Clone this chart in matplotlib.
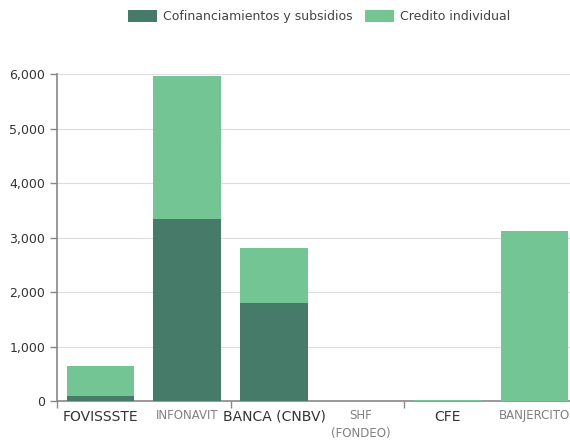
import matplotlib
matplotlib.use("Agg")
import matplotlib.pyplot as plt
from matplotlib.ticker import FuncFormatter, FixedLocator
from matplotlib.patches import Patch

categories = ["FOVISSSTE", "INFONAVIT", "BANCA (CNBV)", "SHF\n(FONDEO)", "CFE", "BANJERCITO"]
cofinanciamientos = [90, 3340, 1800, 0, 0, 0]
credito_individual = [550, 2620, 1010, 0, 25, 3120]

dark = "#457B68"
light = "#74C594"

fig = plt.figure(figsize=(5.7, 4.4), dpi=100)
ax = fig.add_axes([0.1, 0.0886, 0.914, 0.743])

x = list(range(len(categories)))
ax.bar(x, cofinanciamientos, width=0.78, color=dark, zorder=3)
ax.bar(x, credito_individual, width=0.78, bottom=cofinanciamientos, color=light, zorder=3)

ax.set_xlim(-0.5, 5.5)
ax.set_ylim(0, 6000)
ax.set_yticks([0, 1000, 2000, 3000, 4000, 5000, 6000])
ax.yaxis.set_major_formatter(FuncFormatter(lambda v, p: f"{int(v):,}"))
ax.grid(axis="y", color="#dddddd", linewidth=0.8, zorder=0)
for s in ["top", "right"]:
    ax.spines[s].set_visible(False)
ax.spines["left"].set_color("#888888")
ax.spines["bottom"].set_color("#888888")
ax.spines["left"].set_linewidth(1.2)
ax.spines["bottom"].set_linewidth(1.2)
ax.tick_params(axis="y", colors="#888888", labelcolor="#333333", labelsize=9, length=5, width=1)

# x ticks at every other band boundary, labels drawn separately
ax.xaxis.set_major_locator(FixedLocator([-0.5, 1.5, 3.5, 5.5]))
ax.tick_params(axis="x", colors="#888888", length=5, width=1, labelbottom=False)
for i, lab in enumerate(categories):
    if i % 2 == 0:
        ax.text(i, -0.027, lab, transform=ax.get_xaxis_transform(), ha="center", va="top",
                fontsize=10, color="#333333")
    else:
        ax.text(i, -0.024, lab, transform=ax.get_xaxis_transform(), ha="center", va="top",
                fontsize=8.5, color="#808080", linespacing=1.55)

handles = [Patch(facecolor=dark, label="Cofinanciamientos y subsidios"),
           Patch(facecolor=light, label="Credito individual")]
fig.legend(handles=handles, loc="center", bbox_to_anchor=(0.56, 0.962), ncol=2, frameon=False,
           fontsize=9, handlelength=2.3, handleheight=1.1, columnspacing=1.0, handletextpad=0.5,
           labelcolor="#444444")

fig.savefig("out.png", dpi=100)
